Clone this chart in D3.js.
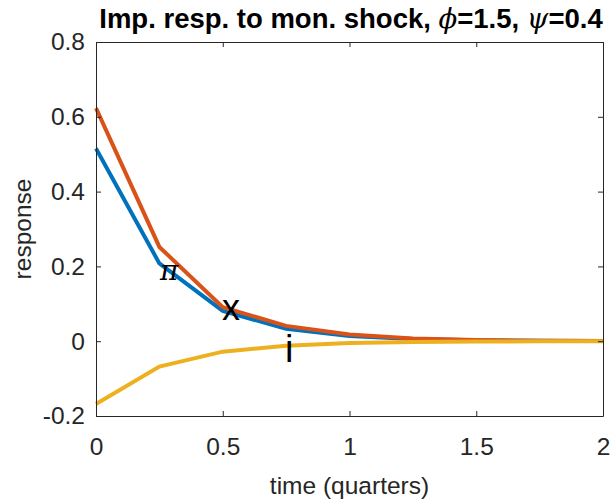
<!DOCTYPE html>
<html>
<head>
<meta charset="utf-8">
<script src="https://cdn.jsdelivr.net/npm/d3@7"></script>
<style>
body { margin: 0; background: #fff; }
svg text { font-family: "Liberation Sans", Arial, sans-serif; fill: #262626; }
</style>
</head>
<body>
<svg id="chart" width="616" height="501"></svg>
<script>
// time in quarters
let times = [0, 0.25, 0.5, 0.75, 1, 1.25, 1.5, 1.75, 2];
// responses
let xGap = [0.515, 0.208, 0.081, 0.033, 0.014, 0.006, 0.0025, 0.001, 0.0004];
let piInfl = [0.623, 0.252, 0.091, 0.041, 0.018, 0.0075, 0.003, 0.0012, 0.0005];
let iRate = [-0.168, -0.068, -0.028, -0.012, -0.005, -0.002, -0.0008, -0.0003, -0.0001];
let xTicks = [0, 0.5, 1, 1.5, 2];
let yTicks = [-0.2, 0, 0.2, 0.4, 0.6, 0.8];

let axLeft = 96, axRight = 603, axTop = 42, axBottom = 416;

let svg = d3.select("#chart");

let xScale = d3.scaleLinear().domain([0, 2]).range([axLeft, axRight]);
let yScale = d3.scaleLinear().domain([-0.2, 0.8]).range([axBottom, axTop]);

// lines
let line = d3.line()
  .x((d, i) => xScale(times[i]))
  .y(d => yScale(d));

let series = [
  { vals: xGap, color: "#0072BD" },
  { vals: piInfl, color: "#D95319" },
  { vals: iRate, color: "#EDB120" }
];

// draw in MATLAB order: x, pi, i
svg.selectAll("path.series")
  .data(series)
  .enter()
  .append("path")
  .attr("class", "series")
  .attr("d", d => line(d.vals))
  .attr("fill", "none")
  .attr("stroke", d => d.color)
  .attr("stroke-width", 4);

// axes (ticks inward, box on)
let axisColor = "#262626";
function styleAxis(g) {
  g.select(".domain").attr("stroke", axisColor).attr("stroke-width", 1);
  g.selectAll(".tick line").attr("stroke", axisColor);
  g.selectAll(".tick text").style("font-size", "24.5px").attr("fill", axisColor);
}

// plain hyphen for negatives, like matlab
let fmt = d => String(+d.toFixed(1));

svg.append("g")
  .attr("transform", `translate(0,${axBottom})`)
  .call(d3.axisBottom(xScale).tickValues(xTicks).tickSizeInner(-5).tickSizeOuter(0).tickPadding(22).tickFormat(fmt))
  .call(styleAxis);

svg.append("g")
  .attr("transform", `translate(${axLeft},0)`)
  .call(d3.axisLeft(yScale).tickValues(yTicks).tickSizeInner(-5).tickSizeOuter(0).tickPadding(11).tickFormat(fmt))
  .call(styleAxis);

svg.append("g")
  .attr("transform", `translate(0,${axTop})`)
  .call(d3.axisTop(xScale).tickValues(xTicks).tickSizeInner(-5).tickSizeOuter(0).tickFormat(""))
  .call(styleAxis);

svg.append("g")
  .attr("transform", `translate(${axRight},0)`)
  .call(d3.axisRight(yScale).tickValues(yTicks).tickSizeInner(-5).tickSizeOuter(0).tickFormat(""))
  .call(styleAxis);

// line labels
svg.append("text")
  .attr("x", 160).attr("y", 280)
  .style("font-size", "28px").style("font-family", "DejaVu Serif, serif").style("font-style", "italic")
  .style("fill", "#000")
  .text("π");

svg.append("text")
  .attr("x", 222).attr("y", 320)
  .style("font-size", "36px")
  .style("fill", "#000")
  .text("x");

svg.append("text")
  .attr("x", 285).attr("y", 362)
  .style("font-size", "38px")
  .style("fill", "#000")
  .text("i");

// axis titles
svg.append("text")
  .attr("x", (axLeft + axRight) / 2).attr("y", 494)
  .attr("text-anchor", "middle")
  .style("font-size", "24.5px")
  .text("time (quarters)");

svg.append("text")
  .attr("transform", `translate(31,${(axTop + axBottom) / 2}) rotate(-90)`)
  .attr("text-anchor", "middle")
  .style("font-size", "24.5px")
  .text("response");

// title
let title = svg.append("text")
  .attr("x", 351).attr("y", 28)
  .attr("text-anchor", "middle")
  .style("font-size", "27.5px").style("font-weight", "bold")
  .style("fill", "#000");
title.append("tspan").text("Imp. resp. to mon. shock, ");
title.append("tspan").style("font-family", "DejaVu Serif, serif").style("font-style", "italic").style("font-weight", "normal").text("ϕ");
title.append("tspan").text("=1.5, ");
title.append("tspan").style("font-family", "DejaVu Serif, serif").style("font-style", "italic").style("font-weight", "normal").text("ψ");
title.append("tspan").text("=0.4");
</script>
</body>
</html>
